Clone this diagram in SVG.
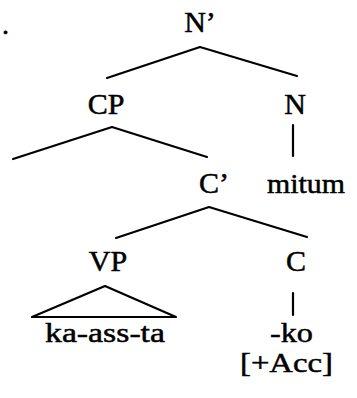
<svg xmlns="http://www.w3.org/2000/svg" width="357" height="398" viewBox="0 0 357 398">
<style>
  text { font-family: "Liberation Serif", "DejaVu Serif", "Times New Roman", serif; fill: #000; stroke: #000; stroke-width: 0.5px; }
  .lbl { font-size: 30px; text-anchor: middle; }
  .leaf { font-size: 28px; }
  .edge { stroke: #000; stroke-width: 2.2; fill: none; stroke-linecap: round; stroke-linejoin: round; }
</style>
<rect width="357" height="398" fill="#fff"/>
<text class="leaf" x="2" y="34">.</text>
<g id="nbar"><text class="lbl" x="200" y="32">N’</text></g>
<g id="cp"><text class="lbl" x="106" y="114">CP</text></g>
<g id="n"><text class="lbl" x="295" y="114">N</text></g>
<g id="cbar"><text class="lbl" x="214" y="193">C’</text></g>
<g id="mitum"><text class="leaf" x="267" y="193" textLength="78" lengthAdjust="spacingAndGlyphs">mitum</text></g>
<g id="vp"><text class="lbl" x="108" y="271">VP</text></g>
<g id="c"><text class="lbl" x="296" y="271">C</text></g>
<g id="kaassta"><text class="leaf" x="45" y="342" textLength="120" lengthAdjust="spacingAndGlyphs">ka-ass-ta</text></g>
<g id="ko"><text class="leaf" x="270" y="342" textLength="43" lengthAdjust="spacingAndGlyphs">-ko</text></g>
<g id="acc"><text class="leaf" x="240" y="372" textLength="93" lengthAdjust="spacingAndGlyphs">[+Acc]</text></g>
<g id="connectors">
  <polyline class="edge" points="107,78 200,47 297,76"/>
  <polyline class="edge" points="13,159 112,127 207,157"/>
  <line class="edge" x1="293" y1="125" x2="293" y2="156"/>
  <polyline class="edge" points="116,238 209,207 307,237"/>
  <polygon class="edge" points="105,286 32,317 176,317"/>
  <line class="edge" x1="293" y1="293" x2="293" y2="315"/>
</g>
</svg>
